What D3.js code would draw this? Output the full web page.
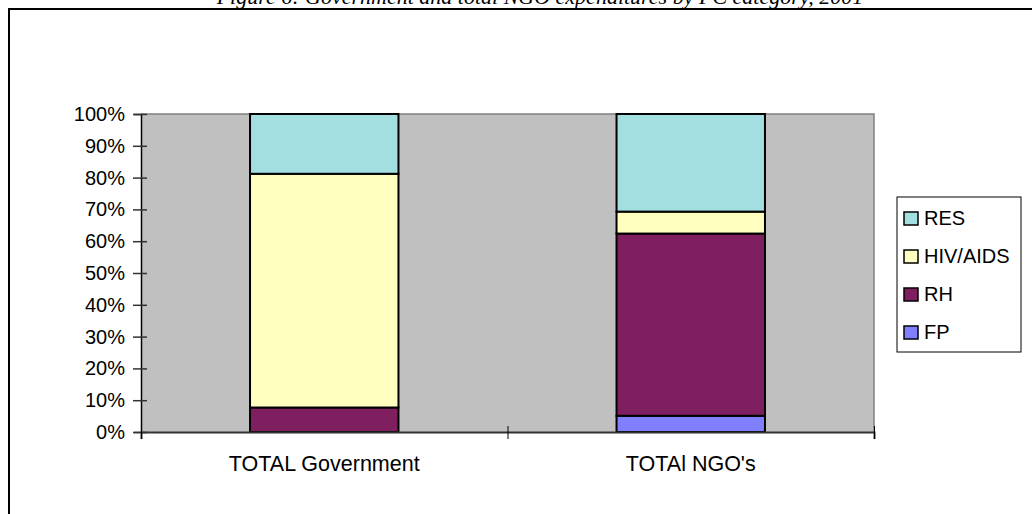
<!DOCTYPE html>
<html><head><meta charset="utf-8">
<script src="https://cdn.jsdelivr.net/npm/d3@7"></script>
<style>body{margin:0;background:#fff;overflow:hidden} svg{display:block}</style>
</head><body><svg id="c" width="1032" height="514"></svg>
<script>
const categories = ["TOTAL Government", "TOTAl NGO's"];
const seriesNames = ["FP", "RH", "HIV/AIDS", "RES"];
const fpValues = [0, 5.1];
const rhValues = [7.7, 57.3];
const hivValues = [73.5, 6.9];
const resValues = [18.8, 30.7];
const yTicks = [0, 10, 20, 30, 40, 50, 60, 70, 80, 90, 100];
const legendOrder = ["RES", "HIV/AIDS", "RH", "FP"];
const titleText = "Figure 6: Government and total NGO expenditures by PC category, 2001";

const colors = {"FP": "#8080FF", "RH": "#7F1F5F", "HIV/AIDS": "#FFFFC0", "RES": "#A3DFE0"};
const valuesBy = {"FP": fpValues, "RH": rhValues, "HIV/AIDS": hivValues, "RES": resValues};

const rows = categories.map((c, i) => {
  const r = {cat: c};
  seriesNames.forEach(s => r[s] = valuesBy[s][i]);
  return r;
});
const stacked = d3.stack().keys(seriesNames)(rows);

const svg = d3.select("#c");
const font = "'Liberation Sans', Arial, sans-serif";

// title (cut off at top, as in the reference)
svg.append("text").attr("x", 540).attr("y", 4).attr("text-anchor", "middle")
  .attr("font-family", "'Liberation Serif', 'Times New Roman', serif")
  .attr("font-style", "italic").attr("font-size", 22).attr("fill", "#000")
  .text(titleText);

// outer frame
svg.append("rect").attr("x", 9).attr("y", 9).attr("width", 1040).attr("height", 520)
  .attr("fill", "none").attr("stroke", "#000").attr("stroke-width", 2);

const pLeft = 141, pRight = 874, pTop = 114, pBottom = 432;
const y = d3.scaleLinear().domain([0, 100]).range([pBottom, pTop]);
const x = d3.scaleBand().domain(categories).range([pLeft, pRight]).padding(0);
const barFrac = 0.405;
const bw = x.bandwidth() * barFrac;

// plot area
svg.append("rect").attr("x", pLeft).attr("y", pTop).attr("width", pRight - pLeft).attr("height", pBottom - pTop)
  .attr("fill", "#C0C0C0");
svg.append("path").attr("d", `M${pLeft},${pTop}H${pRight}V${pBottom}`).attr("fill", "none")
  .attr("stroke", "#808080").attr("stroke-width", 1.5);

// bars
svg.append("g").selectAll("g").data(stacked).join("g")
  .attr("fill", d => colors[d.key])
  .selectAll("rect").data(d => d.filter(p => p[1] - p[0] > 0)).join("rect")
  .attr("x", d => x(d.data.cat) + (x.bandwidth() - bw) / 2)
  .attr("width", bw)
  .attr("y", d => y(d[1]))
  .attr("height", d => y(d[0]) - y(d[1]))
  .attr("stroke", "#000").attr("stroke-width", 2);

// y axis
const yAxis = svg.append("g").attr("transform", `translate(${pLeft},0)`)
  .call(d3.axisLeft(y).tickValues(yTicks).tickFormat(d => d + "%").tickSize(7).tickPadding(9));
yAxis.select(".domain").attr("stroke", "#000").attr("stroke-width", 1.5);
yAxis.selectAll(".tick line").attr("x2", -8).attr("x1", 6).attr("stroke", "#333").attr("stroke-width", 1.5);
yAxis.selectAll(".tick text").attr("font-family", font).attr("font-size", 20).attr("fill", "#000");

// x axis
const xb = d3.scaleLinear().domain([0, categories.length]).range([pLeft, pRight]);
const xAxis = svg.append("g").attr("transform", `translate(0,${pBottom})`)
  .call(d3.axisBottom(xb).tickValues(d3.range(categories.length + 1)).tickFormat("").tickSize(7));
xAxis.select(".domain").attr("stroke", "#333").attr("stroke-width", 2);
xAxis.selectAll(".tick line").attr("y1", -6).attr("y2", 7).attr("stroke", "#000");

svg.append("g").selectAll("text").data(categories).join("text")
  .attr("x", d => x(d) + x.bandwidth() / 2).attr("y", 471)
  .attr("text-anchor", "middle").attr("font-family", font).attr("font-size", 21.5)
  .text(d => d);

// legend
const lg = svg.append("g");
lg.append("rect").attr("x", 897).attr("y", 197).attr("width", 124).attr("height", 155)
  .attr("fill", "#fff").attr("stroke", "#000").attr("stroke-width", 1);
const ly = d3.scalePoint().domain(legendOrder).range([218, 332]);
const items = lg.selectAll("g").data(legendOrder).join("g")
  .attr("transform", d => `translate(904,${ly(d)})`);
items.append("rect").attr("x", 0).attr("y", -6).attr("width", 14).attr("height", 13)
  .attr("fill", d => colors[d]).attr("stroke", "#000").attr("stroke-width", 1.5);
items.append("text").attr("x", 20).attr("y", 7).attr("font-family", font).attr("font-size", 20)
  .text(d => d);
</script></body></html>
